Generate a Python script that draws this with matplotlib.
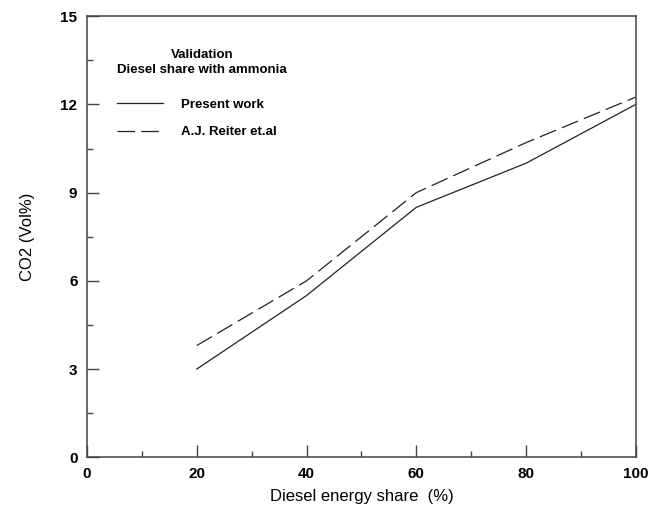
import matplotlib
matplotlib.use("Agg")
import matplotlib.pyplot as plt
from matplotlib.ticker import MultipleLocator

plt.rcParams['font.family'] = ['Liberation Sans', 'DejaVu Sans']

# diesel energy share (%)
share = [20, 40, 60, 80, 100]
# CO2 (vol%)
present_work = [3.0, 5.5, 8.5, 10.0, 12.0]
reiter = [3.8, 6.0, 9.0, 10.7, 12.25]

fig = plt.figure(figsize=(6.65, 5.08), dpi=100)
ax = fig.add_axes([0.131, 0.100, 0.825, 0.868])

ax.plot(share, present_work, color='#222222', lw=0.9, label='Present work')
ax.plot(share, reiter, color='#222222', lw=0.9, dashes=(14, 5),
        label='A.J. Reiter et.al')

ax.set_xlim(0, 100)
ax.set_ylim(0, 15)
ax.xaxis.set_major_locator(MultipleLocator(20))
ax.xaxis.set_minor_locator(MultipleLocator(10))
ax.yaxis.set_major_locator(MultipleLocator(3))
ax.yaxis.set_minor_locator(MultipleLocator(1.5))

for s in ax.spines.values():
    s.set_color('#444444')
    s.set_linewidth(1.1)

ax.tick_params(which='both', direction='in', color='#444444', width=1.0,
               top=False, right=False)
ax.tick_params(which='major', length=8.5, pad=7, labelsize=11)
ax.tick_params(which='minor', length=4.3)
for lab in ax.get_xticklabels() + ax.get_yticklabels():
    lab.set_fontweight('bold')

ax.set_xlabel('Diesel energy share  (%)', fontsize=12, labelpad=6)
ax.set_ylabel('CO2 (Vol%)', fontsize=12, labelpad=18)

leg = ax.legend(title='Validation\nDiesel share with ammonia', loc='upper left',
                bbox_to_anchor=(0.055, 0.925), frameon=False, borderpad=0,
                borderaxespad=0, handlelength=3.5, handletextpad=1.3,
                labelspacing=1.15, alignment='left',
                prop={'size': 9.5, 'weight': 'bold'},
                title_fontproperties={'size': 9.5, 'weight': 'bold'})
leg.get_title().set_multialignment('center')
leg.get_title().set_linespacing(1.35)
leg._legend_box.sep = 16

fig.savefig('out.png', dpi=100)
